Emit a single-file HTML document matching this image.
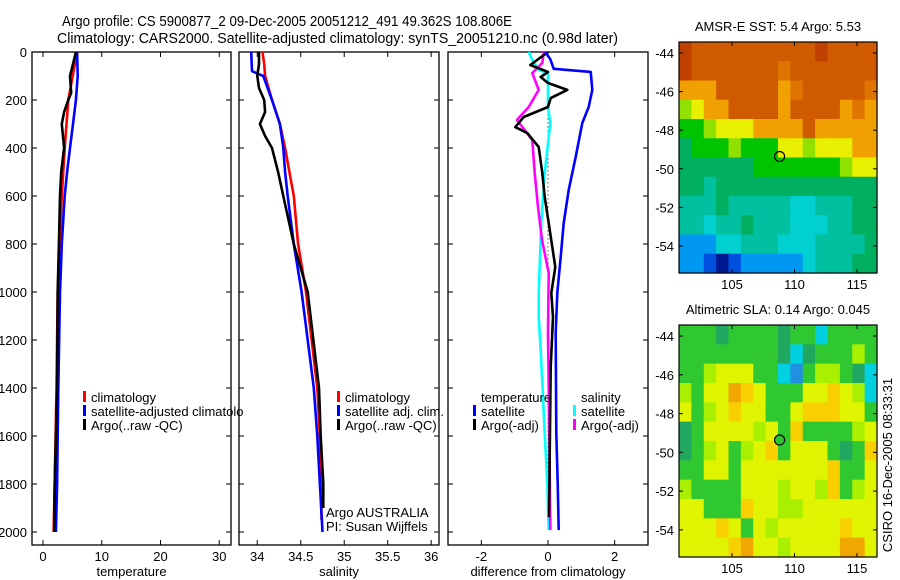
<!DOCTYPE html>
<html><head><meta charset="utf-8"><style>
html,body{margin:0;padding:0;background:#fff}
svg{display:block;font-family:"Liberation Sans",sans-serif}
</style></head><body>
<svg id="fig" width="900" height="580" viewBox="0 0 900 580" xmlns="http://www.w3.org/2000/svg">
<rect width="900" height="580" fill="#fff"/>
<text x="62" y="26" font-size="15" textLength="450" lengthAdjust="spacingAndGlyphs">Argo profile: CS 5900877_2 09-Dec-2005 20051212_491 49.362S 108.806E</text>
<text x="57" y="43" font-size="15" textLength="561" lengthAdjust="spacingAndGlyphs">Climatology: CARS2000. Satellite-adjusted climatology: synTS_20051210.nc (0.98d later)</text>
<g id="g"></g>
</svg>
<script>
// ---- data ----
const tClimDepth=[0,200,400,600,800,1000,1400,1800,2000];
const tClimVal=[5.8,4.3,3.7,3.2,2.8,2.5,2.3,2.0,1.8];
const tSatDepth=[0,100,200,300,400,500,600,800,1000,1400,1600,1800,2000];
const tSatVal=[5.8,5.9,5.6,5.1,4.6,4.1,3.7,3.2,2.9,2.6,2.5,2.4,2.2];
const tArgoDepth=[0,50,100,170,200,250,300,400,500,600,800,1000,1400,1800,2000];
const tArgoVal=[5.6,5.1,4.6,4.8,4.3,3.6,3.2,3.6,3.1,2.9,2.7,2.5,2.4,2.0,1.9];
const sClimDepth=[0,50,100,200,300,400,500,600,800,1000,1400,1600,1800,1950];
const sClimVal=[34.06,34.08,34.09,34.17,34.26,34.32,34.37,34.42,34.47,34.56,34.69,34.72,34.73,34.74];
const sSatDepth=[0,80,100,200,300,400,500,600,800,1000,1400,1600,1800,2000];
const sSatVal=[33.93,33.94,34.07,34.17,34.26,34.30,34.32,34.35,34.42,34.51,34.65,34.69,34.72,34.75];
const sArgoDepth=[0,50,100,150,200,250,300,350,400,500,600,800,1000,1400,1600,1800,1900];
const sArgoVal=[34.02,34.02,34.0,34.02,34.08,34.09,34.03,34.09,34.17,34.24,34.30,34.42,34.58,34.71,34.73,34.76,34.76];
const dTSatDepth=[0,30,70,83,158,229,296,437,575,713,854,1004,1171,1588,1796,1992];
const dTSatVal=[-0.08,0.07,0.17,1.28,1.33,1.22,1.03,0.83,0.62,0.47,0.38,0.28,0.23,0.25,0.29,0.32];
const dTArgoDepth=[0,54,83,104,129,158,192,229,271,313,338,396,504,604,713,896,1004,1104,1313,1938];
const dTArgoVal=[0,-0.53,0,-0.22,0,0.58,0.08,0,-0.73,-0.98,-0.62,-0.28,-0.17,-0.10,0.02,0.22,0.10,0.15,0.08,0.03];
const dSArgoDepth=[0,46,88,158,229,283,367,504,646,783,921,1171,1588,1992];
const dSArgoVal=[-0.13,-0.17,-0.47,-0.28,-0.58,-0.93,-0.47,-0.40,-0.30,-0.18,0.02,0,0.04,0.07];
const dSSatDepth=[0,33,75,88,229,296,504,713,1004,1104,1242,1588,1796,1992];
const dSSatVal=[-0.58,-0.47,-0.28,0,0,0.07,-0.10,-0.20,-0.28,-0.28,-0.22,-0.10,-0.02,0.02];
const depthTicks=[0,200,400,600,800,1000,1200,1400,1600,1800,2000];
const tTicks=[0,10,20,30];
const sTicks=[34,34.5,35,35.5,36];
const dTicks=[-2,0,2];
const lonTicks=[105,110,115];
const latTicks=[-44,-46,-48,-50,-52,-54];
const sstRows=["RDDDDDDDDDDRDDDD","RDDDDDDDODDDDDDD","AAADDDDDAODDDDDO","LYAADDDDADDDDAOA","GGLYYYAAAADAAAAA","gGGGLGGGYYLYYYAA","ggggggGGGGGGGLYY","ggTggggggggggggg","TTTgTTTTTCCTTTgg","TTCTTgTTTCCCTTgg","SSSCCTTTCCCTTTTg","SSBNBSSSSSCTTTgg"];
const slaRows=["GGGtGGGGtGGCGGGG","GGGGGGGGtCtGGGLG","GGLYYYGGCSGLLGtC","LGYYOAYGGGYYAYLC","YGLYAYYGGYAAAYYG","tGYYYYLYGAGGGGLY","tGLYGLYAGYYYGtGA","GGYYGYYYYYYYAGGY","LGGGGYYYLYYLAGLY","YYGGGAYYLLYYYYYY","YYYAYGYLYYYYYAYY","YYYYAOYYLYYYYOOY"];
const sstColors={R:"#c04000",D:"#d05a00",O:"#e07400",A:"#f0a000",Y:"#e8f000",L:"#90e000",G:"#00c400",g:"#00b060",T:"#00c0a0",C:"#00d0d0",S:"#0098f0",B:"#0050e0",N:"#001890"};
const slaColors={C:"#00d0e0",S:"#2090e0",t:"#20a860",G:"#30c830",L:"#a8f000",Y:"#e0f400",A:"#f8d000",O:"#f0a800"};
const argoLon=108.806, argoLat=-49.362;

const NS="http://www.w3.org/2000/svg";
const G=document.getElementById('g');
function mk(tag,attrs,parent){const e=document.createElementNS(NS,tag);for(const k in attrs)e.setAttribute(k,attrs[k]);(parent||G).appendChild(e);return e;}
const yTop=52,yBot=545;
function yD(d){return yTop+d*0.24;}
function lin(d0,d1,r0,r1){return v=>r0+(v-d0)*(r1-r0)/(d1-d0);}
const panels=[
 {name:'temperature',x0:32,x1:231,dom:[-1.87,32.0],ticks:tTicks,label:'temperature'},
 {name:'salinity',x0:239,x1:439,dom:[33.79,36.09],ticks:sTicks,label:'salinity'},
 {name:'difference',x0:448,x1:648,dom:[-3.0,3.0],ticks:dTicks,label:'difference from climatology'}];
panels.forEach((p,i)=>{
  p.fx=lin(p.dom[0],p.dom[1],p.x0,p.x1);
  const grp=mk('g',{});
  
  
  const r=mk('rect',{x:p.x0,y:yTop,width:p.x1-p.x0,height:yBot-yTop,fill:'none',stroke:'#000','stroke-width':1.3},grp);
  
  
  depthTicks.forEach(d=>{
    const y=yD(d);
    mk('line',{x1:p.x0,x2:p.x0+5,y1:y,y2:y,stroke:'#000'},grp);
    mk('line',{x1:p.x1,x2:p.x1-5,y1:y,y2:y,stroke:'#000'},grp);
    if(i===0){const t=mk('text',{x:27,y:y+5,'font-size':13,'text-anchor':'end'},grp);t.textContent=d;
      
      }
  });
  p.ticks.forEach(v=>{
    const x=p.fx(v);
    mk('line',{x1:x,x2:x,y1:yTop,y2:yTop+5,stroke:'#000'},grp);
    mk('line',{x1:x,x2:x,y1:yBot,y2:yBot-5,stroke:'#000'},grp);
    const t=mk('text',{x:x,y:561,'font-size':13,'text-anchor':'middle'},grp);t.textContent=v;
    
    
  });
  const xl=mk('text',{x:(p.x0+p.x1)/2,y:576,'font-size':13,'text-anchor':'middle'},grp);xl.textContent=p.label;
  
  
});
// zero dotted line
mk('line',{x1:panels[2].fx(0),x2:panels[2].fx(0),y1:yD(160),y2:yD(1990),stroke:'#000','stroke-dasharray':'1,3','stroke-width':1});
function series(p,dep,val,color,name){
  const pts=dep.map((d,k)=>p.fx(val[k]).toFixed(1)+','+yD(d).toFixed(1)).join(' ');
  const l=mk('polyline',{points:pts,fill:'none',stroke:color,'stroke-width':2.6,'stroke-linejoin':'round'});
  
  
}
const [P1,P2,P3]=panels;
series(P1,tClimDepth,tClimVal,'#ff0000','temp-climatology-line');
series(P1,tSatDepth,tSatVal,'#0000ff','temp-satellite-line');
series(P1,tArgoDepth,tArgoVal,'#000000','temp-argo-line');
series(P2,sClimDepth,sClimVal,'#ff0000','sal-climatology-line');
series(P2,sSatDepth,sSatVal,'#0000ff','sal-satellite-line');
series(P2,sArgoDepth,sArgoVal,'#000000','sal-argo-line');
series(P3,dSSatDepth,dSSatVal,'#00ffff','diff-sal-satellite-line');
series(P3,dSArgoDepth,dSArgoVal,'#ff00ff','diff-sal-argo-line');
series(P3,dTArgoDepth,dTArgoVal,'#000000','diff-temp-argo-line');
series(P3,dTSatDepth,dTSatVal,'#0000ff','diff-temp-satellite-line');
// legends
function leg(x,y,color,txt,name){
  if(color){const m=mk('rect',{x:x,y:y-11,width:3,height:11,fill:color});
    
    }
  const t=mk('text',{x:x+8,y:y,'font-size':13});t.textContent=txt;
  
  
}
leg(83,402,'#ff0000','climatology','legend-entry-climatology');
leg(83,416,'#0000ff','satellite-adjusted climatolo','legend-entry-satellite');
leg(83,430,'#000000','Argo(..raw -QC)','legend-entry-argo');
leg(337,402,'#ff0000','climatology','legend-entry-sal-climatology');
leg(337,416,'#0000ff','satellite adj. clim.','legend-entry-sal-satellite');
leg(337,430,'#000000','Argo(..raw -QC)','legend-entry-sal-argo');
leg(473,402,null,'temperature','legend-heading-temperature');
leg(473,416,'#0000ff','satellite','legend-entry-diff-temp-satellite');
leg(473,430,'#000000','Argo(-adj)','legend-entry-diff-temp-argo');
leg(573,402,null,'salinity','legend-heading-salinity');
leg(573,416,'#00ffff','satellite','legend-entry-diff-sal-satellite');
leg(573,430,'#ff00ff','Argo(-adj)','legend-entry-diff-sal-argo');
leg(318,517,null,'Argo AUSTRALIA','credit-argo-australia');
leg(318,531,null,'PI: Susan Wijffels','credit-pi');
// maps
function map(y0,y1,rows,cols,title,name,dotFill){
  const x0=679,x1=877;
  const fx=lin(100.76,116.6,x0,x1), fy=lin(-43.43,-55.4,y0,y1);
  const grp=mk('g',{});
  
  
  const nr=rows.length,nc=rows[0].length,cw=(x1-x0)/nc,rh=(y1-y0)/nr;
  rows.forEach((row,r)=>{[...row].forEach((ch,c)=>{
    const cell=mk('rect',{x:x0+c*cw,y:y0+r*rh,width:cw+0.6,height:rh+0.6,fill:cols[ch]},grp);
    
    
  });});
  mk('rect',{x:x0,y:y0,width:x1-x0,height:y1-y0,fill:'none',stroke:'#000','stroke-width':1.2},grp);
  lonTicks.forEach(v=>{const x=fx(v);
    mk('line',{x1:x,x2:x,y1:y0,y2:y0+4,stroke:'#000'},grp);
    mk('line',{x1:x,x2:x,y1:y1,y2:y1-4,stroke:'#000'},grp);
    const t=mk('text',{x:x,y:y1+16,'font-size':13,'text-anchor':'middle'},grp);t.textContent=v;
    
    });
  latTicks.forEach(v=>{const y=fy(v);
    mk('line',{x1:x0,x2:x0+4,y1:y,y2:y,stroke:'#000'},grp);
    mk('line',{x1:x1,x2:x1-4,y1:y,y2:y,stroke:'#000'},grp);
    const t=mk('text',{x:x0-5,y:y+5,'font-size':13,'text-anchor':'end'},grp);t.textContent=v;
    
    });
  const tt=mk('text',{x:(x0+x1)/2,y:y0-11,'font-size':13,'text-anchor':'middle'},grp);tt.textContent=title;
  
  
  const c=mk('circle',{cx:fx(argoLon),cy:fy(argoLat),r:5,fill:dotFill,stroke:'#000','stroke-width':1.2},grp);
  
  
}
map(42,273,sstRows,sstColors,'AMSR-E SST: 5.4 Argo: 5.53','sst-map','none');
map(325,557,slaRows,slaColors,'Altimetric SLA: 0.14 Argo: 0.045','sla-map','#30c830');
const v=mk('text',{x:0,y:0,'font-size':13,'text-anchor':'middle',transform:'translate(892,465) rotate(-90)'});
v.textContent='CSIRO 16-Dec-2005 08:33:31';


</script>
</body></html>
